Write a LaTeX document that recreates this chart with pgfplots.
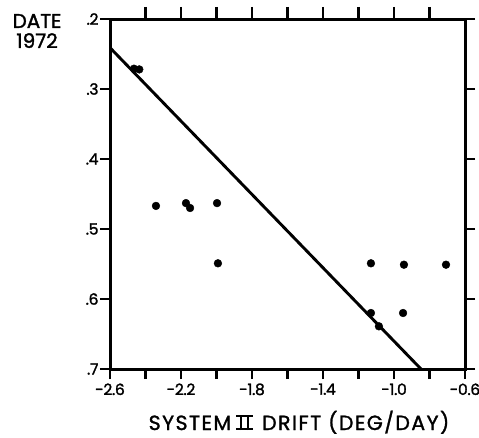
\documentclass[border=0pt]{standalone}
\usepackage{fontspec}
\setmainfont{Poppins}[FakeBold=1.6]
\newfontfamily\labfont{Poppins}[FakeBold=1.4, LetterSpace=7]
\newfontfamily\tickfont{Poppins}[FakeBold=1.6, LetterSpace=-2]
\usepackage{pgfplots}
\pgfplotsset{compat=1.18}
\newcommand{\romtwo}{\makebox[17pt][l]{\rlap{\rule[0pt]{17pt}{1.9pt}}\rlap{\rule[13.1pt]{17pt}{1.9pt}}\hspace{4pt}\rule{2.2pt}{15pt}\hspace{4.5pt}\rule{2.2pt}{15pt}}}
\begin{document}
\begin{tikzpicture}
\path[use as bounding box] (-110pt,-68pt) rectangle (369pt,369pt);
\begin{axis}[
  scale only axis, width=355pt, height=350pt,
  at={(0pt,0pt)}, anchor=south west,
  xmin=-2.6, xmax=-0.6, ymin=0.2, ymax=0.7, y dir=reverse,
  axis line style={line width=3pt},
  xtick={-2.6,-2.2,-1.8,-1.4,-1.0,-0.6},
  xticklabels={-2.6,-2.2,-1.8,-1.4,-1.0,-0.6},
  minor xtick={-2.4,-2.0,-1.6,-1.2,-0.8},
  xtick pos=left, ytick pos=both,
  ytick={0.2,0.3,0.4,0.5,0.6,0.7},
  yticklabels={.2,.3,.4,.5,.6,.7},
  tick align=outside,
  major tick length=10pt, minor tick length=10pt,
  tick style={line width=2.3pt, black},
  ticklabel style={font=\tickfont\fontsize{15.5}{16}\selectfont},
  xticklabel style={yshift=-1pt},
  yticklabel style={xshift=2pt},
  clip=true,
]
\addplot[line width=2.9pt, black] coordinates {(-2.6,0.241) (-0.848,0.7)};
\addplot[only marks, mark=*, mark size=3.9pt, black] coordinates {
  (-2.465,0.271) (-2.435,0.272)
  (-2.341,0.467) (-2.172,0.463) (-2.149,0.470) (-1.997,0.463)
  (-1.992,0.549)
  (-1.130,0.549) (-0.944,0.551) (-0.707,0.551)
  (-1.130,0.620) (-1.085,0.639) (-0.949,0.620)
};
\end{axis}
\begin{axis}[
  scale only axis, width=355pt, height=350pt,
  at={(0pt,0pt)}, anchor=south west,
  xmin=-2.6, xmax=-0.6, ymin=0.2, ymax=0.7,
  axis line style={draw=none},
  xtick={-2.4,-2.2,-2.0,-1.8,-1.6,-1.4,-1.2,-1.0,-0.8},
  xticklabels={},
  xtick pos=right, ytick=\empty,
  tick align=outside,
  major tick length=12pt,
  tick style={line width=2.3pt, black},
]
\end{axis}
\node[anchor=center, align=center, font=\fontsize{20}{20}\selectfont] at (-73pt,338pt) {DATE\\1972};
\node[anchor=base, font=\labfont\fontsize{20.5}{22}\selectfont] at (189pt,-61pt) {SYSTEM\hspace{5pt}\romtwo\hspace{9pt}DRIFT (DEG/DAY)};
\end{tikzpicture}
\end{document}
